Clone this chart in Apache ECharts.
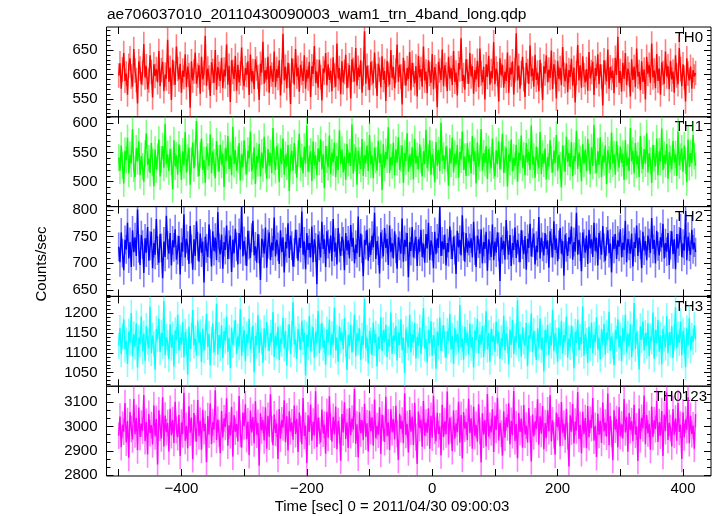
<!DOCTYPE html>
<html><head><meta charset="utf-8">
<script src="https://cdn.jsdelivr.net/npm/echarts@6/dist/echarts.min.js"></script>
<style>html,body{margin:0;padding:0;background:#fff}#c{width:717px;height:516px}</style>
</head><body><div id="c"></div>
<script>
const titleText = 'ae706037010_20110430090003_wam1_trn_4band_long.qdp';
const xAxisName = 'Time [sec] 0 = 2011/04/30 09:00:03';
const yAxisName = 'Counts/sec';
const tStart = -500, tStep = 2;
const xTickValues = [-500,-400,-300,-200,-100,0,100,200,300,400];
const xTickLabels = [-400,-200,0,200,400];
const bandNames = ['TH0','TH1','TH2','TH3','TH0123'];
const yTickLabels = [[550,600,650],[500,550,600],[650,700,750,800],[1050,1100,1150,1200],[2800,2900,3000,3100]];
const bandErrors = [25,23,27,33,55];

const th0 = [
598,623,571,610,644,587,602,559,618,633,596,575,652,608,589,541,627,612,580,603,
662,594,617,570,588,639,605,553,621,597,611,584,648,576,609,626,566,600,592,671,
585,614,548,630,603,579,657,611,590,622,563,608,595,641,574,616,599,532,627,588,
606,645,581,598,619,561,636,590,603,679,577,612,594,556,625,607,583,650,569,615,
601,587,634,572,610,596,661,579,618,544,629,605,591,638,567,620,584,602,655,593,
576,613,599,627,558,641,586,607,570,631,612,595,548,622,604,667,581,609,590,636,
563,618,600,585,647,574,611,593,629,557,605,683,588,616,572,624,598,540,633,607,
579,652,596,614,565,620,603,587,639,571,610,592,626,554,617,601,658,583,606,573,
630,595,547,612,604,644,578,621,589,608,566,635,598,575,663,592,613,560,627,584,
605,640,572,598,619,551,631,609,586,654,577,614,595,629,563,602,688,581,618,594,
568,626,603,582,645,597,556,622,610,574,637,589,607,546,628,600,579,650,593,615,
572,608,661,585,620,596,539,634,603,577,613,591,646,568,624,599,582,617,555,638,
594,611,575,657,588,606,562,629,601,583,642,570,615,597,533,626,608,589,651,576,
619,600,566,636,592,613,578,648,585,604,557,623,610,674,587,599,569,631,606,581,
644,596,617,561,609,590,628,574,653,602,584,616,549,621,595,638,579,607,592,666,
580,612,601,545,633,598,620,573,606,587,645,563,614,600,627,559,609,684,588,618,
571,603,636,590,554,624,607,581,659,596,612,575,640,589,604,566,630,598,548,617,
602,639,584,610,593,649,570,621,605,551,628,591,613,578,656,600,586,623,564,609,
595,632,577,614,543,603,660,588,619,573,637,599,584,611,567,646,592,605,626,558,
613,597,641,580,621,596,537,629,604,586,651,571,615,593,608,562,634,599,677,583,
607,565,624,591,644,578,612,600,555,631,589,616,574,653,596,605,568,627,585,610,
549,636,601,620,583,663,594,608,572,642,587,612,559,625,603,581,647,596,617,570,
628,590,606,563,639,598,580,654,611,576,621,594,545,633,602,588,616,571,609,596,
603];

const th1 = [
541,519,562,528,497,553,537,575,514,546,531,590,522,508,557,535,569,511,544,526,
500,548,583,529,540,515,566,533,492,555,521,543,572,509,538,561,524,599,530,547,
518,556,534,487,571,526,545,512,564,539,503,552,528,585,516,541,558,495,536,567,
523,549,604,531,510,546,574,520,537,498,560,543,527,581,514,552,533,506,569,540,
517,563,529,548,491,557,536,578,522,545,511,594,530,554,519,538,566,502,547,525,
571,534,513,553,540,586,518,527,559,496,544,532,565,509,550,523,577,537,505,556,
528,549,515,592,535,520,561,543,499,557,530,574,512,546,526,563,484,541,553,519,
566,536,507,548,582,524,542,514,560,531,596,517,539,552,501,569,528,545,511,557,
534,572,521,547,489,561,538,525,579,513,550,533,567,508,544,520,588,530,555,516,
543,503,565,532,550,527,598,514,541,559,495,553,536,522,573,510,546,531,562,518,
580,529,545,506,558,537,519,570,532,548,486,564,524,551,538,593,515,542,528,567,
511,555,533,576,520,540,562,498,549,535,583,517,546,526,559,504,573,531,544,521,
564,537,509,552,530,589,523,541,571,512,547,534,499,568,527,554,518,601,536,545,
522,560,539,493,557,531,575,516,548,529,563,507,551,538,586,520,543,510,566,533,
546,514,578,535,552,497,567,526,540,590,519,549,532,561,505,556,537,523,574,528,
509,554,530,569,521,544,582,515,538,558,492,547,534,572,518,541,527,563,500,550,
537,579,524,545,511,566,533,551,520,596,529,543,507,560,536,523,585,513,548,531,
557,504,542,526,571,538,516,553,532,580,519,546,528,490,562,540,517,577,534,549,
525,568,510,544,535,587,522,550,539,501,564,530,555,518,573,542,513,559,527,597,
536,515,552,529,576,508,545,533,562,496,554,538,521,584,531,547,512,569,540,524,
560,532,548,503,571,527,541,519,592,535,553,514,566,529,545,508,578,537,522,556,
531,583,516,549,536,498,563,540,526,574,511,552,534,591,520,546,530,565,505,551,
539,521,570,533,547,510,586,528,543,557,517,562,536,499,572,525,549,532,580,544,
527];

const th2 = [
731,702,758,719,687,744,726,776,709,740,693,762,721,749,714,801,728,697,753,735,
682,747,720,768,705,733,759,691,738,716,783,724,701,755,729,672,741,712,789,734,
718,757,696,743,730,764,707,725,751,679,739,722,792,711,746,733,699,770,727,688,
745,714,779,732,703,756,720,741,664,750,728,712,773,737,694,760,723,748,706,796,
729,717,754,690,740,725,771,708,735,752,684,744,719,765,731,698,757,726,809,713,
742,723,695,761,734,710,748,780,715,732,701,755,727,669,746,738,718,767,692,736,
758,706,739,724,786,713,744,731,699,762,721,749,683,740,728,775,710,752,733,694,
720,763,736,705,748,729,797,716,741,689,757,725,738,711,769,702,745,730,661,754,
733,711,778,727,745,693,760,736,719,752,704,783,722,739,698,766,729,714,750,741,
687,757,724,743,709,772,731,748,700,735,719,788,712,756,727,676,744,734,763,705,
739,716,752,730,795,708,742,724,681,758,736,713,766,729,746,697,771,721,738,709,
760,727,690,749,733,718,784,703,744,731,757,674,740,723,768,711,736,750,695,745,
722,763,712,737,701,755,728,776,706,743,732,691,759,717,747,729,806,714,741,726,
754,696,738,721,769,735,708,750,725,680,761,730,744,715,790,732,703,757,720,742,
729,747,711,778,724,693,752,737,718,764,700,740,727,759,686,745,733,712,773,706,
741,720,758,731,667,749,726,742,707,781,734,716,753,695,738,725,767,710,744,729,
702,762,735,717,751,688,746,729,774,713,739,756,698,733,721,787,709,748,731,715,
757,727,743,692,760,738,711,779,725,747,704,735,766,718,742,677,754,730,714,749,
736,769,707,740,722,795,716,744,731,685,758,737,720,752,699,763,728,745,712,776,
723,748,696,757,734,716,770,729,705,741,762,719,737,683,750,727,755,708,743,731,
764,711,739,725,780,702,746,733,718,756,694,740,729,771,714,748,735,691,759,724,
742,706,752,738,719,785,727,744,700,761,732,715,749,730,774,709,738,722,757,697,
734,760,717,745,689,755,728,741,766,712,737,724,793,706,750,731,716,763,726,739,
721];

const th3 = [
1118,1163,1097,1142,1185,1109,1131,1072,1154,1126,1201,1091,1147,1116,1175,1063,1138,1122,1192,1104,
1149,1080,1168,1129,1111,1217,1099,1144,1123,1058,1160,1135,1187,1102,1151,1117,1231,1094,1140,1126,
1084,1172,1113,1146,1065,1157,1132,1196,1106,1139,1121,1178,1089,1153,1128,1045,1166,1110,1143,1208,
1119,1136,1093,1182,1125,1152,1077,1161,1107,1140,1199,1115,1148,1069,1133,1174,1101,1127,1224,1096,
1145,1112,1170,1087,1155,1131,1191,1103,1138,1062,1164,1120,1149,1183,1098,1141,1116,1211,1092,1135,
1158,1079,1147,1124,1186,1108,1133,1169,1051,1143,1119,1195,1100,1152,1129,1075,1162,1114,1178,1137,
1105,1150,1127,1203,1090,1144,1118,1166,1082,1136,1123,1189,1111,1155,1068,1139,1172,1097,1148,1228,
1121,1134,1085,1160,1142,1107,1181,1128,1151,1043,1146,1115,1193,1103,1137,1165,1088,1153,1124,1206,
1099,1141,1175,1113,1132,1070,1159,1126,1184,1095,1147,1120,1214,1106,1139,1078,1167,1130,1152,1109,
1188,1123,1057,1145,1117,1171,1101,1136,1197,1092,1150,1129,1162,1083,1143,1119,1236,1112,1138,1074,
1156,1131,1094,1177,1125,1148,1066,1140,1110,1190,1104,1157,1127,1171,1089,1135,1116,1202,1098,1144,
1130,1168,1081,1152,1120,1185,1107,1139,1049,1161,1133,1114,1196,1102,1147,1126,1176,1086,1141,1118,
1164,1097,1149,1213,1111,1135,1076,1158,1124,1180,1093,1145,1131,1060,1154,1117,1189,1105,1137,1170,
1122,1087,1155,1130,1199,1108,1143,1072,1163,1127,1148,1101,1221,1115,1136,1083,1166,1125,1151,1096,
1174,1113,1140,1064,1157,1132,1186,1099,1146,1121,1168,1090,1138,1205,1109,1150,1078,1161,1128,1143,
1103,1179,1124,1153,1085,1137,1116,1194,1106,1149,1133,1071,1159,1120,1183,1097,1142,1127,1233,1111,
1147,1091,1165,1129,1118,1176,1067,1144,1136,1200,1102,1155,1123,1082,1162,1114,1187,1108,1139,1053,
1158,1126,1171,1095,1143,1119,1209,1104,1150,1131,1077,1164,1117,1181,1098,1145,1128,1192,1088,1137,
1115,1169,1134,1061,1153,1125,1184,1107,1140,1122,1218,1093,1148,1130,1075,1166,1112,1177,1100,1146,
1127,1190,1109,1138,1084,1160,1121,1173,1096,1151,1132,1204,1105,1142,1118,1069,1157,1135,1185,1113,
1144,1079,1163,1128,1196,1101,1149,1116,1172,1089,1137,1226,1110,1154,1123,1058,1167,1133,1180,1106,
1150,1118,1175,1092,1141,1129,1202,1085,1158,1124,1183,1103,1145,1071,1161,1136,1114,1193,1099,1152,
1120,1168,1087,1139,1215,1111,1147,1126,1179,1094,1156,1131,1064,1162,1119,1188,1106,1143,1128,1170,
1134];

const th0123 = [
2962,3041,2915,3008,2979,3097,2934,3023,2871,3060,2990,2947,3114,2968,3035,2902,3078,2957,3012,2983,
3130,2940,3019,2885,3052,2973,3006,2926,3088,2959,3031,2844,3067,2995,2951,3121,2918,3045,2977,3014,
2897,3073,2964,3027,2932,3102,2986,2956,3048,2879,3016,2969,3139,2941,3003,2911,3084,2975,3037,2865,
3056,2993,2937,3109,2960,3024,2904,3069,2981,3011,2853,3043,2966,3095,2928,3018,2987,3150,2945,3029,
2972,2890,3064,2955,3034,2998,3117,2921,3005,2963,3081,2876,3047,2979,3010,2939,3126,2970,2913,3058,
3001,3092,2948,3021,2882,3066,2976,3039,2930,3104,2967,3015,2838,3055,2984,3028,2943,3079,2908,3044,
2958,3133,2989,2923,3050,2974,3012,2866,3072,2950,3026,2996,3108,2935,3042,2901,3063,2980,3017,2946,
3087,2969,3032,2895,3058,2991,2927,3118,2961,3004,2849,3046,2978,3091,2942,3020,2963,3145,2916,3037,
2982,2934,3070,2971,3008,2888,3061,2953,3125,2999,2938,3040,2967,3083,2906,3023,2985,2859,3052,2976,
3100,2949,3018,2912,3076,2964,3033,2987,3155,2929,3009,2872,3059,2972,3027,2944,3094,2958,3013,2897,
3065,2981,3038,2921,3111,2952,3002,2966,3079,2887,3049,2994,2936,3123,2960,3017,2903,3071,2977,3030,
2947,3086,2970,2862,3053,2989,3025,2931,3137,2965,3010,2893,3068,2979,3041,2924,3098,2955,2846,3062,
2993,3029,2917,3105,2962,3016,2975,3075,2908,3044,2954,3127,2983,2939,3057,2969,3001,2881,3090,2957,
3022,2968,3144,2926,3036,2985,2898,3066,2950,3013,2977,3102,2933,3048,2868,3060,2991,3019,2944,3115,
2973,3034,2909,3082,2961,3007,2937,3092,2982,2852,3055,2966,3027,2918,3134,2958,3003,2976,3071,2895,
3045,2986,3119,2943,3015,2971,2880,3063,2954,3038,2996,3096,2927,3024,2964,3147,2940,3010,2869,3057,
2978,3032,2913,3089,2967,3004,2934,3076,2988,2856,3050,2959,3021,2990,3112,2925,3042,2970,3085,2906,
3014,2952,3067,2981,3129,2938,3026,2963,2884,3058,2997,3039,2919,3101,2975,3011,2946,3073,2961,2835,
3046,2979,3093,2930,3020,2984,3142,2949,3007,2890,3061,2968,3035,2911,3085,2956,3028,2993,3118,2942,
3003,2874,3054,2965,3024,2932,3099,2980,3016,2958,3136,2923,3043,2971,2862,3067,2987,3031,2914,3080,
2960,3009,2951,3113,2976,3040,2896,3056,2985,3022,2939,3090,2967,3001,2858,3074,2948,3036,2992,3128,
2927,3047,2972,3011,2904,3083,2957,3026,2989,3106,2936,3018,2962,3064,2879,3049,2981,3140,2945,3015,
2994,2918,3072,2966,3033,2941,3097,2978,3008,2866,3059,2955,3029,2986,3121,2931,3044,2969,3005,2909,
3052];

const bandValues = [th0, th1, th2, th3, th0123];

// ---- layout / style ----
const FONT = '"Liberation Sans", Arial, Helvetica, sans-serif';
const colors = ['#ff0000','#00ff00','#0000ff','#00ffff','#ff00ff'];
const lightColors = ['rgba(255,0,0,0.5)','rgba(0,255,0,0.5)','rgba(0,0,255,0.5)','rgba(0,255,255,0.5)','rgba(255,0,255,0.5)'];
const yRanges = [[513.7,696.9],[457.4,611.1],[638,806.4],[1015.9,1242.7],[2796,3166.4]];
const majorSteps = [50,50,50,50,100];
const minorDivs = [5,5,5,5,3];
const xMin = -519.5, xMax = 444.6;
const plotLeft = 106.5, plotRight = 711, plotTop = 27, panelH = 89.8;
const labelRight = [703,703,703,703,707];

function fmt(v){ return String(v).replace('-', '\u2212'); }
function minorVals(r, majorStep, divs){
  const out = [];
  const base = Math.floor(r[0]/majorStep)*majorStep;
  for (let k = 0; ; k++) {
    const v = base + k*majorStep/divs;
    if (v > r[1]) break;
    if (v >= r[0] && k % divs !== 0) out.push(v);
  }
  return out;
}

const grids = [], xAxes = [], yAxes = [], series = [], graphics = [];
for (let i = 0; i < 5; i++) {
  grids.push({left: plotLeft, width: plotRight - plotLeft, top: plotTop + i*panelH, height: panelH,
    show: true, borderColor: '#000', borderWidth: 1, backgroundColor: 'transparent'});
  ['bottom','top'].forEach(function(pos){
    xAxes.push({type:'value', gridIndex:i, position:pos, min:xMin, max:xMax,
      axisLine:{show:false, onZero:false}, splitLine:{show:false},
      axisTick:{show:true, inside:true, length:7, customValues:xTickValues, lineStyle:{color:'#000', width:1}},
      axisLabel:{show: (i===4 && pos==='bottom'), customValues:xTickLabels, formatter:fmt,
        color:'#000', fontSize:15, fontFamily:FONT, margin:5}});
  });
  const majors = yTickLabels[i];
  const minors = minorVals(yRanges[i], majorSteps[i], minorDivs[i]);
  ['left','right'].forEach(function(pos){
    yAxes.push({type:'value', gridIndex:i, position:pos, min:yRanges[i][0], max:yRanges[i][1],
      axisLine:{show:false, onZero:false}, splitLine:{show:false},
      axisTick:{show:true, inside:true, length:7, customValues:majors, lineStyle:{color:'#000', width:1}},
      axisLabel:{show: pos==='left', customValues:majors, formatter:fmt, color:'#000', fontSize:15, fontFamily:FONT, margin:9}});
    yAxes.push({type:'value', gridIndex:i, position:pos, min:yRanges[i][0], max:yRanges[i][1],
      axisLine:{show:false, onZero:false}, splitLine:{show:false},
      axisTick:{show:true, inside:true, length:4, customValues:minors, lineStyle:{color:'#000', width:1}},
      axisLabel:{show:false}});
  });
  const vals = bandValues[i];
  const err = bandErrors[i];
  const pts = vals.map(function(v, k){ return [tStart + k*tStep, v]; });
  const ebars = vals.map(function(v, k){ return [tStart + k*tStep, v, err]; });
  const light = lightColors[i];
  series.push({type:'custom', name: bandNames[i]+' err', xAxisIndex:2*i, yAxisIndex:4*i, clip:true, z:1,
    data: ebars, silent:true,
    renderItem: function(params, api){
      const t = api.value(0), v = api.value(1), e = api.value(2);
      const p1 = api.coord([t, v - e]), p2 = api.coord([t, v + e]);
      return {type:'line', shape:{x1:p1[0], y1:p1[1], x2:p2[0], y2:p2[1]}, style:{stroke: light, lineWidth:1.6}};
    }});
  series.push({type:'line', name: bandNames[i], xAxisIndex:2*i, yAxisIndex:4*i, data: pts, z:2,
    showSymbol:false, symbol:'none', clip:true, lineStyle:{color:colors[i], width:1.4}, silent:true});
  graphics.push({type:'text', right: 717 - labelRight[i], top: plotTop + i*panelH + 3,
    style:{text: bandNames[i], fill:'#000', font: '15px ' + FONT}});
}

graphics.push({type:'text', left: 107, top: 7, style:{text: titleText, fill:'#000', font:'15.5px ' + FONT}});
graphics.push({type:'text', x: 392, y: 507, style:{text: xAxisName, fill:'#000', font:'15px ' + FONT, textAlign:'center', textVerticalAlign:'middle'}});
graphics.push({type:'text', x: 42, y: 264, rotation: Math.PI/2, style:{text: yAxisName, fill:'#000', font:'15px ' + FONT, textAlign:'center', textVerticalAlign:'middle'}});

const chart = echarts.init(document.getElementById('c'), null, {renderer:'canvas'});
chart.setOption({animation:false, backgroundColor:'#fff', grid:grids, xAxis:xAxes, yAxis:yAxes, series:series, graphic:graphics});
</script></body></html>
